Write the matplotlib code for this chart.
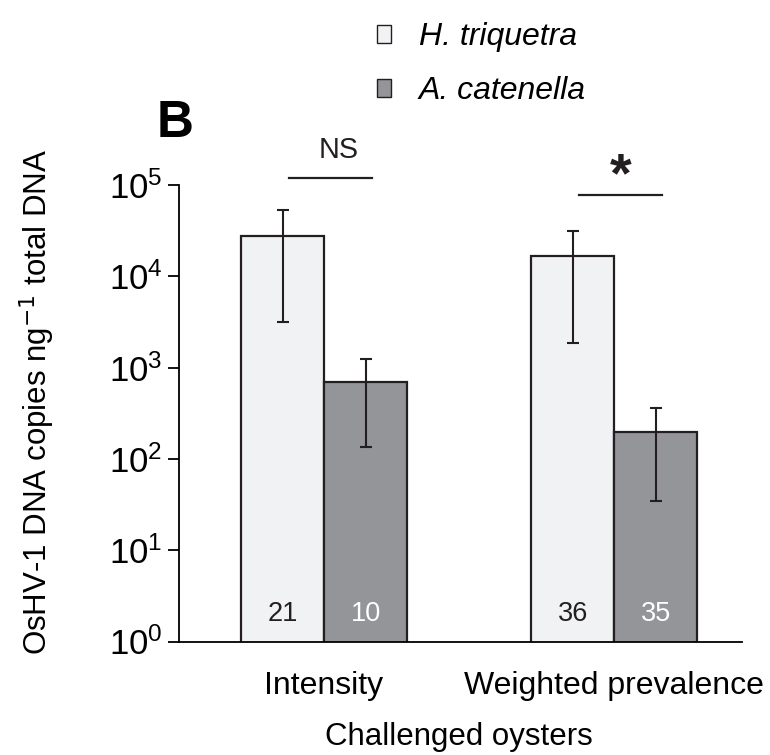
import numpy as np
import matplotlib.pyplot as plt
from matplotlib.patches import Patch

plt.rcParams['font.family'] = ['Liberation Sans', 'DejaVu Sans']

# data (log scale)
groups = ['Intensity', 'Weighted prevalence']
species = ['H. triquetra', 'A. catenella']
means = {'H. triquetra': [2.8e4, 1.67e4],
         'A. catenella': [700, 199]}
err_low = {'H. triquetra': [3.2e3, 1.85e3],
           'A. catenella': [135, 35]}
err_high = {'H. triquetra': [5.3e4, 3.1e4],
            'A. catenella': [1250, 364]}
n_oysters = {'H. triquetra': [21, 36],
             'A. catenella': [10, 35]}
signif = ['NS', '*']

colors = {'H. triquetra': '#f1f2f4', 'A. catenella': '#939598'}
num_colors = {'H. triquetra': '#231f20', 'A. catenella': 'white'}
edge = '#231f20'

fig = plt.figure(figsize=(7.7, 7.55), dpi=100)
ax = fig.add_axes([0.2325, 0.1503, 0.7312, 0.6046])

x = np.arange(len(groups))
w = 0.286
offsets = {'H. triquetra': -w / 2, 'A. catenella': w / 2}

handles = []
for sp in species:
    m = np.array(means[sp])
    lo = np.array(err_low[sp])
    hi = np.array(err_high[sp])
    ax.bar(x + offsets[sp], m, width=w, color=colors[sp], edgecolor=edge,
           linewidth=1.6, log=True, zorder=2)
    ax.errorbar(x + offsets[sp], m, yerr=[m - lo, hi - m], fmt='none',
                ecolor=edge, elinewidth=1.5, capsize=4.5, capthick=1.5, zorder=3)
    for xi, n in zip(x + offsets[sp], n_oysters[sp]):
        ax.text(xi, 1.68, str(n), ha='center', va='baseline', fontsize=19.5,
                color=num_colors[sp], zorder=4)
    handles.append(Patch(facecolor=colors[sp], edgecolor=edge, linewidth=1.0,
                         label=sp))

# significance markers
sig_y = [1.19e5, 7.7e4]
shift = 0.022
for xi, s, yy in zip(x, signif, sig_y):
    ax.plot([xi + shift - w / 2, xi + shift + w / 2], [yy, yy], color=edge,
            lw=1.6, clip_on=False)
    if s == '*':
        ax.text(xi + shift, yy * 1.12, s, ha='center', va='baseline',
                fontsize=40, color=edge, fontweight='bold')
    else:
        ax.text(xi + shift + 0.027, yy * 1.65, s, ha='center', va='baseline',
                fontsize=20.7, color=edge)

ax.set_yscale('log')
ax.set_ylim(1, 1e5)
ax.set_xlim(-0.5, 1.441)
ax.set_xticks(x)
ax.set_xticklabels(groups, fontsize=23)
ax.tick_params(axis='x', length=0, pad=21)
ax.tick_params(axis='y', which='major', length=8, width=1.3, labelsize=25,
               direction='out', pad=4)
ax.tick_params(axis='y', which='minor', length=0)
ax.spines['top'].set_visible(False)
ax.spines['right'].set_visible(False)
ax.spines['left'].set_linewidth(1.3)
ax.spines['bottom'].set_linewidth(1.3)

ax.set_xlabel('Challenged oysters', fontsize=22.5, va='center')
ax.xaxis.set_label_coords(0.497, -0.209)
ax.set_ylabel('OsHV-1 DNA copies ng$^{-1}$ total DNA', fontsize=22.5,
              va='center')
ax.yaxis.set_label_coords(-0.252, 0.525)

fig.text(0.2273, 0.8185, 'B', fontsize=37, fontweight='bold', ha='center',
         va='baseline')

leg = fig.legend(handles=handles, loc='upper left',
                 bbox_to_anchor=(0.4896, 0.9704), frameon=False, fontsize=23,
                 handlelength=0.45, handleheight=0.45, handletextpad=0.85,
                 labelspacing=0.75, borderpad=0, borderaxespad=0)
for t in leg.get_texts():
    t.set_fontstyle('italic')

fig.savefig('out.png', dpi=100)
